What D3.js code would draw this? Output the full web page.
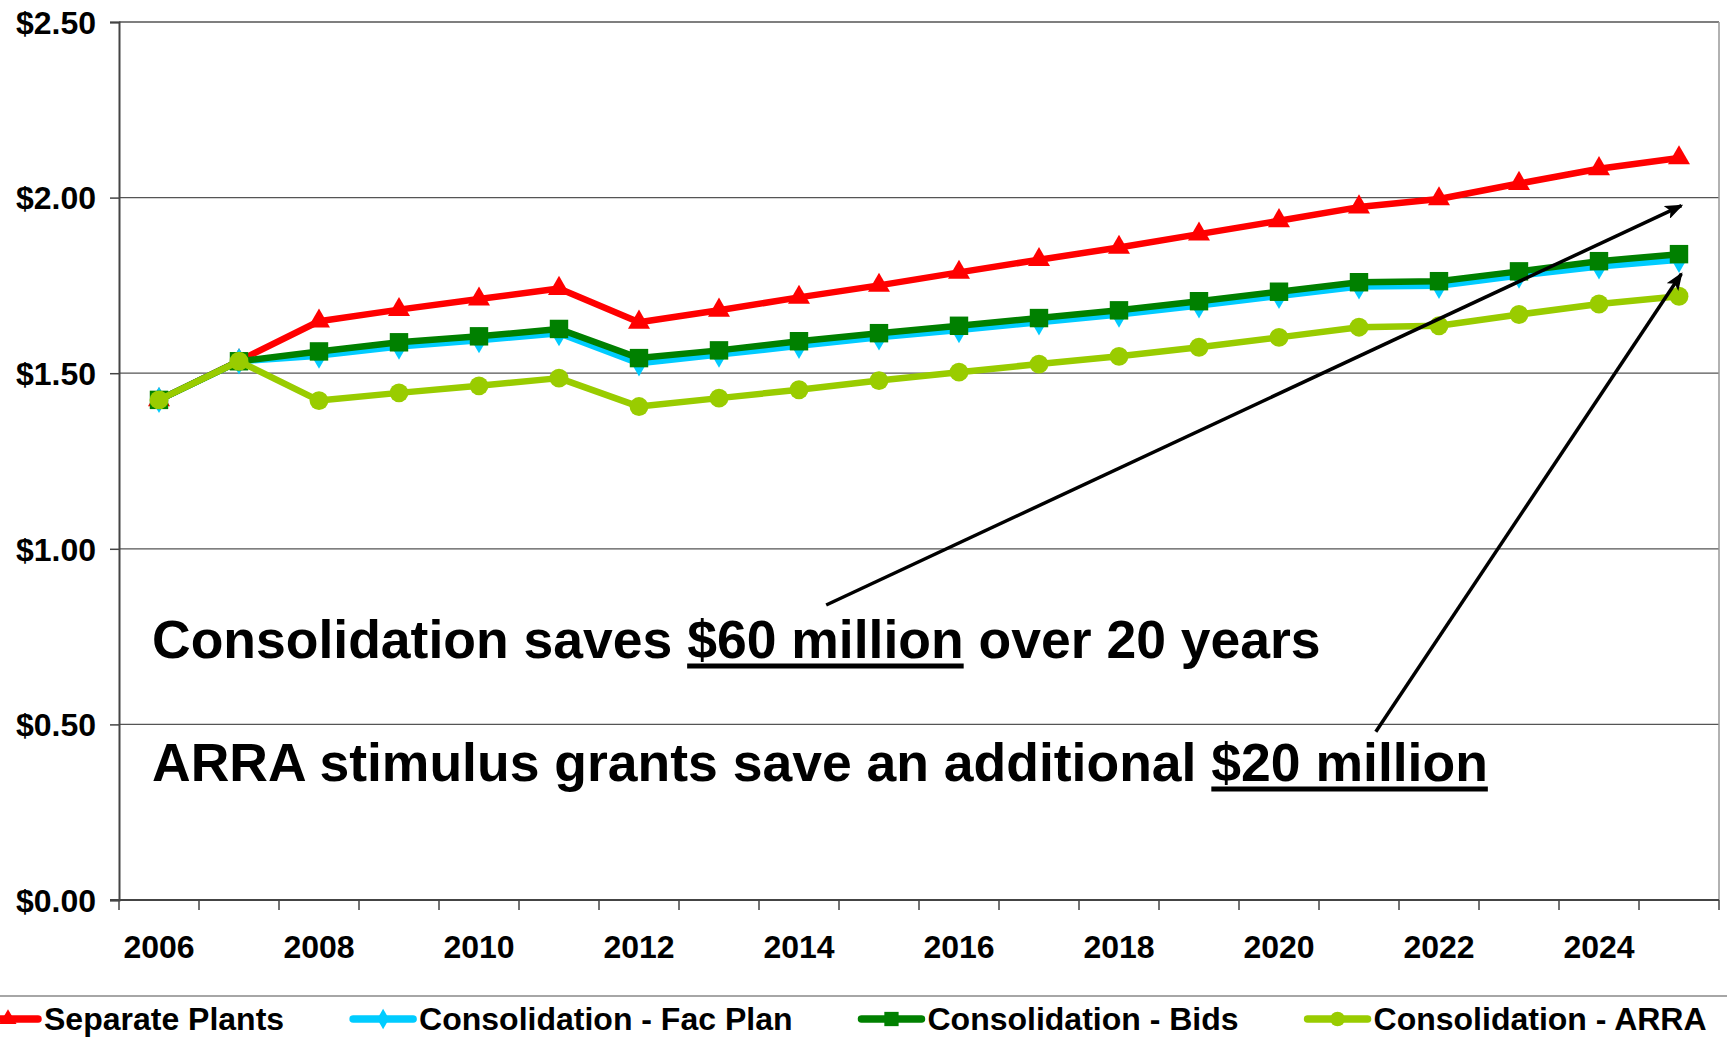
<!DOCTYPE html>
<html>
<head>
<meta charset="utf-8">
<script src="https://cdn.jsdelivr.net/npm/d3@7"></script>
<style>
  body { margin: 0; background: #fff; }
  svg text { font-family: "Liberation Sans", Arial, sans-serif; font-weight: bold; fill: #000; }
</style>
</head>
<body>
<svg id="svg" width="1727" height="1038"></svg>
<script>
// chart data
var years = [2006, 2007, 2008, 2009, 2010, 2011, 2012, 2013, 2014, 2015,
             2016, 2017, 2018, 2019, 2020, 2021, 2022, 2023, 2024, 2025];
var yearLabels = [2006, 2008, 2010, 2012, 2014, 2016, 2018, 2020, 2022, 2024];
var yTicks = [0, 0.5, 1.0, 1.5, 2.0, 2.5];

var separatePlants = [1.424, 1.535, 1.648, 1.681, 1.711, 1.741, 1.645, 1.679, 1.716, 1.750,
                      1.787, 1.823, 1.858, 1.896, 1.934, 1.973, 1.996, 2.040, 2.082, 2.113];
var facPlan = [1.424, 1.534, 1.550, 1.576, 1.594, 1.614, 1.528, 1.553, 1.578, 1.602,
               1.623, 1.645, 1.667, 1.693, 1.720, 1.747, 1.749, 1.778, 1.804, 1.823];
var bids = [1.424, 1.534, 1.562, 1.588, 1.605, 1.626, 1.543, 1.565, 1.591, 1.614,
            1.635, 1.657, 1.679, 1.705, 1.732, 1.759, 1.762, 1.790, 1.819, 1.839];
var arra = [1.424, 1.534, 1.422, 1.444, 1.464, 1.486, 1.405, 1.429, 1.453, 1.479,
            1.503, 1.526, 1.548, 1.574, 1.602, 1.631, 1.635, 1.667, 1.697, 1.719];

var seriesNames = ["Separate Plants", "Consolidation - Fac Plan", "Consolidation - Bids", "Consolidation - ARRA"];
var seriesValues = [separatePlants, facPlan, bids, arra];
var seriesColors = ["#ff0000", "#00ccff", "#008000", "#99cc00"];
var seriesSymbols = [d3.symbolTriangle, d3.symbolDiamond, d3.symbolSquare, d3.symbolCircle];
var symbolSizes = [210, 200, 340, 280];

var svg = d3.select("svg");

// plot area ("top" is taken by window.top, so use other names)
var plotLeft = 119, plotRight = 1719, plotTop = 22, plotBottom = 900;

var x = d3.scaleBand().domain(years).range([plotLeft, plotRight]);
var y = d3.scaleLinear().domain([0, 2.5]).range([plotBottom, plotTop]);

// centre of a (possibly fractional) year
function xc(yr) {
    return x(years[0]) + x.bandwidth() / 2 + (yr - years[0]) * x.step();
}

// gridlines
svg.append("g").selectAll("line")
    .data(yTicks.filter(function(d) { return d > 0; }))
    .enter().append("line")
    .attr("x1", plotLeft).attr("x2", plotRight)
    .attr("y1", function(d) { return y(d); })
    .attr("y2", function(d) { return y(d); })
    .attr("stroke", "#555").attr("stroke-width", 1.3);

// right border of plot
svg.append("line")
    .attr("x1", plotRight).attr("x2", plotRight).attr("y1", plotTop).attr("y2", plotBottom)
    .attr("stroke", "#999").attr("stroke-width", 1.5);

// y axis
var yAxis = svg.append("g")
    .attr("transform", "translate(" + plotLeft + ",0)")
    .call(d3.axisLeft(y).tickValues(yTicks).tickFormat(d3.format("$.2f")).tickSize(9).tickPadding(14));
yAxis.select(".domain").attr("stroke", "#444").attr("stroke-width", 2);
yAxis.selectAll(".tick line").attr("stroke", "#444").attr("stroke-width", 1.5);
yAxis.selectAll("text").attr("font-size", 32).attr("font-family", null).attr("dy", "0.35em");

// x axis: ticks at band edges, labels on every other year
var xAxis = svg.append("g");
xAxis.append("line")
    .attr("x1", plotLeft - 9).attr("x2", plotRight).attr("y1", plotBottom).attr("y2", plotBottom)
    .attr("stroke", "#444").attr("stroke-width", 2);
xAxis.selectAll("line.tk")
    .data(years.concat(["end"]))
    .enter().append("line")
    .attr("class", "tk")
    .attr("x1", function(d) { return d === "end" ? plotRight : x(d); })
    .attr("x2", function(d) { return d === "end" ? plotRight : x(d); })
    .attr("y1", plotBottom).attr("y2", plotBottom + 10)
    .attr("stroke", "#444").attr("stroke-width", 1.5);
xAxis.selectAll("text")
    .data(yearLabels)
    .enter().append("text")
    .attr("x", function(d) { return xc(d); })
    .attr("y", 958)
    .attr("text-anchor", "middle")
    .attr("font-size", 32)
    .text(function(d) { return d; });

// lines and markers
var line = d3.line()
    .x(function(d, i) { return xc(years[i]); })
    .y(function(d) { return y(d); });

for (var s = 0; s < seriesValues.length; s++) {
    var g = svg.append("g");
    g.append("path")
        .datum(seriesValues[s])
        .attr("d", line)
        .attr("fill", "none")
        .attr("stroke", seriesColors[s])
        .attr("stroke-width", 6.5)
        .attr("stroke-linejoin", "round");
    g.selectAll("path.m")
        .data(seriesValues[s])
        .enter().append("path")
        .attr("class", "m")
        .attr("d", d3.symbol().type(seriesSymbols[s]).size(symbolSizes[s]))
        .attr("transform", function(d, i) { return "translate(" + xc(years[i]) + "," + y(d) + ")"; })
        .attr("fill", seriesColors[s]);
}

// arrows
svg.append("defs").append("marker")
    .attr("id", "arrow")
    .attr("markerUnits", "userSpaceOnUse")
    .attr("markerWidth", 18).attr("markerHeight", 14)
    .attr("refX", 16).attr("refY", 7)
    .attr("orient", "auto")
    .append("path")
    .attr("d", "M0,0 L18,7 L0,14 L4,7 Z")
    .attr("fill", "#000");

var arrows = [
    { from: [2014.34, 0.84], to: [2025.03, 1.977] },
    { from: [2021.21, 0.479], to: [2025.03, 1.783] }
];
svg.selectAll("line.arrow")
    .data(arrows)
    .enter().append("line")
    .attr("class", "arrow")
    .attr("x1", function(d) { return xc(d.from[0]); })
    .attr("y1", function(d) { return y(d.from[1]); })
    .attr("x2", function(d) { return xc(d.to[0]); })
    .attr("y2", function(d) { return y(d.to[1]); })
    .attr("stroke", "#000")
    .attr("stroke-width", 3.5)
    .attr("marker-end", "url(#arrow)");

// annotation text with underlined amounts
var notes = [
    { parts: ["Consolidation saves ", "$60 million", " over 20 years"], yPos: 658, ul: 666 },
    { parts: ["ARRA stimulus grants save an additional ", "$20 million", ""], yPos: 781, ul: 789 }
];
notes.forEach(function(n) {
    var t = svg.append("text")
        .attr("x", 152).attr("y", n.yPos)
        .attr("font-size", 53.5)
        .text(n.parts.join(""));
    var node = t.node();
    var start = node.getSubStringLength(0, n.parts[0].length);
    var w = node.getSubStringLength(n.parts[0].length, n.parts[1].length);
    svg.append("rect")
        .attr("x", 152 + start).attr("y", n.ul - 2.5)
        .attr("width", w).attr("height", 5)
        .attr("fill", "#000");
});

// legend
svg.append("line")
    .attr("x1", 0).attr("x2", 1727).attr("y1", 996).attr("y2", 996)
    .attr("stroke", "#888").attr("stroke-width", 1.5);

var lx = 8;
for (var k = 0; k < seriesNames.length; k++) {
    var lg = svg.append("g").attr("transform", "translate(" + lx + ",1019)");
    lg.append("line")
        .attr("x1", -30).attr("x2", 30)
        .attr("stroke", seriesColors[k]).attr("stroke-width", 7.5)
        .attr("stroke-linecap", "round");
    lg.append("path")
        .attr("d", d3.symbol().type(seriesSymbols[k]).size(symbolSizes[k] * 0.6))
        .attr("fill", seriesColors[k]);
    var txt = lg.append("text")
        .attr("x", 36).attr("y", 11)
        .attr("font-size", 32)
        .text(seriesNames[k]);
    lx = lx + 36 + txt.node().getComputedTextLength() + 99;
}
</script>
</body>
</html>
